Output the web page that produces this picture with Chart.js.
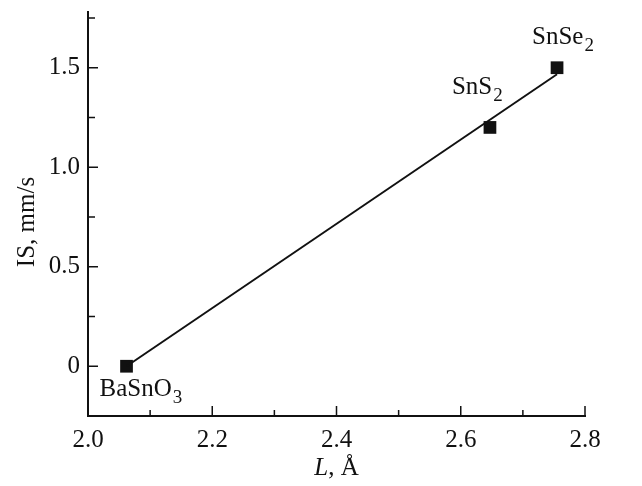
<!DOCTYPE html>
<html>
<head>
<meta charset="utf-8">
<script src="https://cdn.jsdelivr.net/npm/chart.js@4.4.0/dist/chart.umd.min.js"></script>
<style>
  html, body { margin: 0; padding: 0; background: #fff; }
  #wrap { width: 642px; height: 486px; }
</style>
</head>
<body>
<div id="wrap"><canvas id="chart" width="642" height="486"></canvas></div>
<script>
// Dados
const compounds = ['BaSnO3', 'SnS2', 'SnSe2'];
const bondLength = [2.062, 2.647, 2.755];   // L, Å
const isomerShift = [0, 1.2, 1.5];          // IS, mm/s

// Reta de ajuste (extremos)
const fitX = [2.062, 2.755];
const fitY = [0, 1.467];

// Ticks
const xMajor = [2.0, 2.2, 2.4, 2.6, 2.8];
const xMinor = [2.1, 2.3, 2.5, 2.7];
const xLabels = ['2.0', '2.2', '2.4', '2.6', '2.8'];
const yMajor = [0, 0.5, 1.0, 1.5];
const yMinor = [0.25, 0.75, 1.25, 1.75];
const yLabels = ['0', '0.5', '1.0', '1.5'];

const FONT = '"Liberation Serif", "Times New Roman", Times, serif';
const INK = '#111';

// Offsets dos rótulos em relação ao ponto (px)
const labelOffsets = [[-27, 30], [-38, -33], [-25, -24]];

function drawSubText(ctx, txt, x, y) {
  const m = txt.match(/^(.*?)(\d+)$/);
  const base = m ? m[1] : txt;
  const sub = m ? m[2] : '';
  ctx.font = '25px ' + FONT;
  ctx.fillText(base, x, y);
  const w = ctx.measureText(base).width;
  if (sub) {
    ctx.font = '19px ' + FONT;
    ctx.fillText(sub, x + w + 1, y + 7);
  }
}

const decorPlugin = {
  id: 'decor',
  afterDraw(chart) {
    const { ctx, chartArea, scales: { x, y } } = chart;
    ctx.save();
    ctx.strokeStyle = INK;
    ctx.lineWidth = 1.5;
    // ticks para dentro
    ctx.beginPath();
    xMajor.concat(xMinor).forEach(v => {
      const px = x.getPixelForValue(v);
      const len = xMajor.includes(v) ? 10 : 6;
      ctx.moveTo(px, chartArea.bottom);
      ctx.lineTo(px, chartArea.bottom - len);
    });
    yMajor.concat(yMinor).forEach(v => {
      const py = y.getPixelForValue(v);
      const len = yMajor.includes(v) ? 10 : 7;
      ctx.moveTo(chartArea.left, py);
      ctx.lineTo(chartArea.left + len, py);
    });
    ctx.stroke();

    // rótulos dos compostos
    ctx.fillStyle = INK;
    ctx.textBaseline = 'alphabetic';
    ctx.textAlign = 'left';
    compounds.forEach((name, i) => {
      const px = x.getPixelForValue(bondLength[i]);
      const py = y.getPixelForValue(isomerShift[i]);
      drawSubText(ctx, name, px + labelOffsets[i][0], py + labelOffsets[i][1]);
    });

    // título eixo x: "L, Å" com L itálico
    ctx.font = 'italic 25px ' + FONT;
    const wl = ctx.measureText('L').width;
    ctx.font = '25px ' + FONT;
    const wr = ctx.measureText(', Å').width;
    const cx = (chartArea.left + chartArea.right) / 2;
    const tx = cx - (wl + wr) / 2;
    const ty = 475;
    ctx.font = 'italic 25px ' + FONT;
    ctx.fillText('L', tx, ty);
    ctx.font = '25px ' + FONT;
    ctx.fillText(', Å', tx + wl, ty);

    // título eixo y
    ctx.translate(34, 222);
    ctx.rotate(-Math.PI / 2);
    ctx.textAlign = 'center';
    ctx.fillText('IS, mm/s', 0, 0);
    ctx.restore();
  }
};

new Chart(document.getElementById('chart').getContext('2d'), {
  type: 'scatter',
  data: {
    datasets: [
      {
        label: 'ajuste',
        data: fitX.map((v, i) => ({ x: v, y: fitY[i] })),
        showLine: true,
        borderColor: INK,
        borderWidth: 2,
        pointRadius: 0,
        fill: false
      },
      {
        label: 'dados',
        data: bondLength.map((v, i) => ({ x: v, y: isomerShift[i] })),
        pointStyle: 'rect',
        pointRadius: 9,
        backgroundColor: INK,
        borderColor: INK,
        borderWidth: 0
      }
    ]
  },
  options: {
    responsive: false,
    animation: false,
    layout: { padding: { top: 12, right: 57, left: 0, bottom: 0 } },
    plugins: { legend: { display: false }, tooltip: { enabled: false } },
    scales: {
      x: {
        type: 'linear',
        min: 2.0,
        max: 2.8,
        afterBuildTicks: s => { s.ticks = xMajor.map(v => ({ value: v })); },
        afterFit: s => { s.height = 70; s.paddingLeft = 0; s.paddingRight = 0; },
        grid: { display: false, drawTicks: false },
        border: { display: true, color: INK, width: 2 },
        ticks: {
          color: INK,
          padding: 9,
          maxRotation: 0,
          autoSkip: false,
          font: { family: FONT, size: 25 },
          callback: v => { const i = xMajor.findIndex(t => Math.abs(t - v) < 1e-6); return i >= 0 ? xLabels[i] : ''; }
        }
      },
      y: {
        type: 'linear',
        min: -0.25,
        max: 1.78,
        afterBuildTicks: s => { s.ticks = yMajor.map(v => ({ value: v })); },
        afterFit: s => { s.width = 88; s.paddingTop = 0; s.paddingBottom = 0; },
        grid: { display: false, drawTicks: false },
        border: { display: true, color: INK, width: 2 },
        ticks: {
          color: INK,
          padding: 8,
          autoSkip: false,
          font: { family: FONT, size: 25 },
          callback: v => { const i = yMajor.findIndex(t => Math.abs(t - v) < 1e-6); return i >= 0 ? yLabels[i] : ''; }
        }
      }
    }
  },
  plugins: [decorPlugin]
});
</script>
</body>
</html>
